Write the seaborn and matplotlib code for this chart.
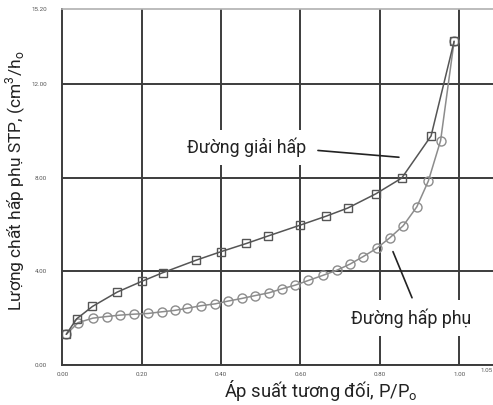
import matplotlib
matplotlib.use("Agg")
import matplotlib.pyplot as plt
import seaborn as sns
import pandas as pd

# Desorption branch (squares)
des_p = [0.010, 0.036, 0.076, 0.138, 0.200, 0.253, 0.338, 0.400, 0.464, 0.517,
         0.599, 0.664, 0.719, 0.790, 0.855, 0.929, 0.987]
des_v = [1.31, 1.97, 2.50, 3.11, 3.57, 3.94, 4.48, 4.84, 5.19, 5.50,
         5.97, 6.35, 6.70, 7.31, 7.98, 9.78, 13.82]

# Adsorption branch (circles)
ads_p = [0.010, 0.040, 0.077, 0.112, 0.146, 0.181, 0.216, 0.250, 0.283, 0.314,
         0.349, 0.385, 0.418, 0.452, 0.485, 0.520, 0.553, 0.587, 0.620, 0.657,
         0.691, 0.725, 0.758, 0.792, 0.825, 0.859, 0.893, 0.922, 0.953, 0.987]
ads_v = [1.31, 1.81, 2.00, 2.07, 2.13, 2.17, 2.20, 2.27, 2.33, 2.42,
         2.53, 2.61, 2.73, 2.84, 2.96, 3.08, 3.25, 3.41, 3.61, 3.83,
         4.04, 4.31, 4.63, 4.98, 5.43, 5.95, 6.75, 7.85, 9.58, 13.82]

x_ticks = [0.0, 0.2, 0.4, 0.6, 0.8, 1.0]
x_tick_labels = ["0.00", "0.20", "0.40", "0.60", "0.80", "1.00"]
y_ticks = [0.0, 4.0, 8.0, 12.0, 15.2]
y_tick_labels = ["0.00", "4.00", "8.00", "12.00", "15.20"]

label_des = "Đường giải hấp"
label_ads = "Đường hấp phụ"
x_label = "Áp suất tương đối, P/P$_\\mathregular{o}$"
y_label = "Lượng chất hấp phụ STP, (cm$^\\mathregular{3}$/h$_\\mathregular{o}$"

sns.set_style("white")
plt.rcParams["font.family"] = ["Roboto", "DejaVu Sans"]

fig = plt.figure(figsize=(4.93, 4.05), dpi=100)
ax = fig.add_axes([0.1264, 0.0988, 0.8736, 0.879])

df_des = pd.DataFrame({"p": des_p, "v": des_v})
df_ads = pd.DataFrame({"p": ads_p, "v": ads_v})

sns.lineplot(data=df_ads, x="p", y="v", ax=ax, sort=False, color="#8c8c8c",
             lw=1.1, marker="o", markersize=6.5, markerfacecolor="none",
             markeredgecolor="#8c8c8c", markeredgewidth=1.0, zorder=4)
sns.lineplot(data=df_des, x="p", y="v", ax=ax, sort=False, color="#555555",
             lw=1.1, marker="s", markersize=6, markerfacecolor="none",
             markeredgecolor="#555555", markeredgewidth=1.0, zorder=5)

ax.set_xlim(0, 1.085)
ax.set_ylim(0, 15.2)
ax.set_xticks(x_ticks)
ax.set_xticklabels(x_tick_labels)
ax.set_xticks([1.068], minor=True)
ax.set_xticklabels(["1.05"], minor=True)
ax.set_yticks(y_ticks)
ax.set_yticklabels(y_tick_labels)

ax.grid(True, which="major", color="#3c3c3c", lw=1.4)
ax.yaxis.get_gridlines()[-1].set_visible(False)
ax.xaxis.get_gridlines()[0].set_visible(False)

ax.tick_params(axis="y", which="major", direction="out", length=10, width=1.2,
               color="#3c3c3c", labelsize=4.5, labelcolor="#555555", pad=1)
ax.tick_params(axis="x", which="both", direction="out", length=3, width=1.2,
               color="#3c3c3c", labelsize=4.5, labelcolor="#555555", pad=2)
ax.tick_params(axis="x", which="minor", length=0)

for side in ["left", "bottom"]:
    ax.spines[side].set_color("#3c3c3c")
    ax.spines[side].set_linewidth(1.4)
ax.spines["top"].set_color("#b0b0b0")
ax.spines["top"].set_linewidth(1.2)
ax.spines["right"].set_visible(False)

ax.set_xlabel(x_label, fontsize=13.2, color="#222222", va="center")
ax.set_ylabel(y_label, fontsize=12.5, color="#222222", va="center")
ax.xaxis.set_label_coords(0.600, -0.071)
ax.yaxis.set_label_coords(-0.108, 0.517)

box = dict(boxstyle="square,pad=0.45", facecolor="white", edgecolor="none")
ax.text(0.463, 9.29, label_des, fontsize=12.8, ha="center", va="center",
        color="#222222", bbox=box, zorder=6)
ax.plot([0.644, 0.848], [9.16, 8.87], color="#222222", lw=1.2, zorder=6)
ax.text(0.879, 2.01, label_ads, fontsize=12.8, ha="center", va="center",
        color="#222222", bbox=box, zorder=6)
ax.plot([0.833, 0.881], [4.84, 2.87], color="#222222", lw=1.2, zorder=6)

fig.savefig("out.png", dpi=100)
